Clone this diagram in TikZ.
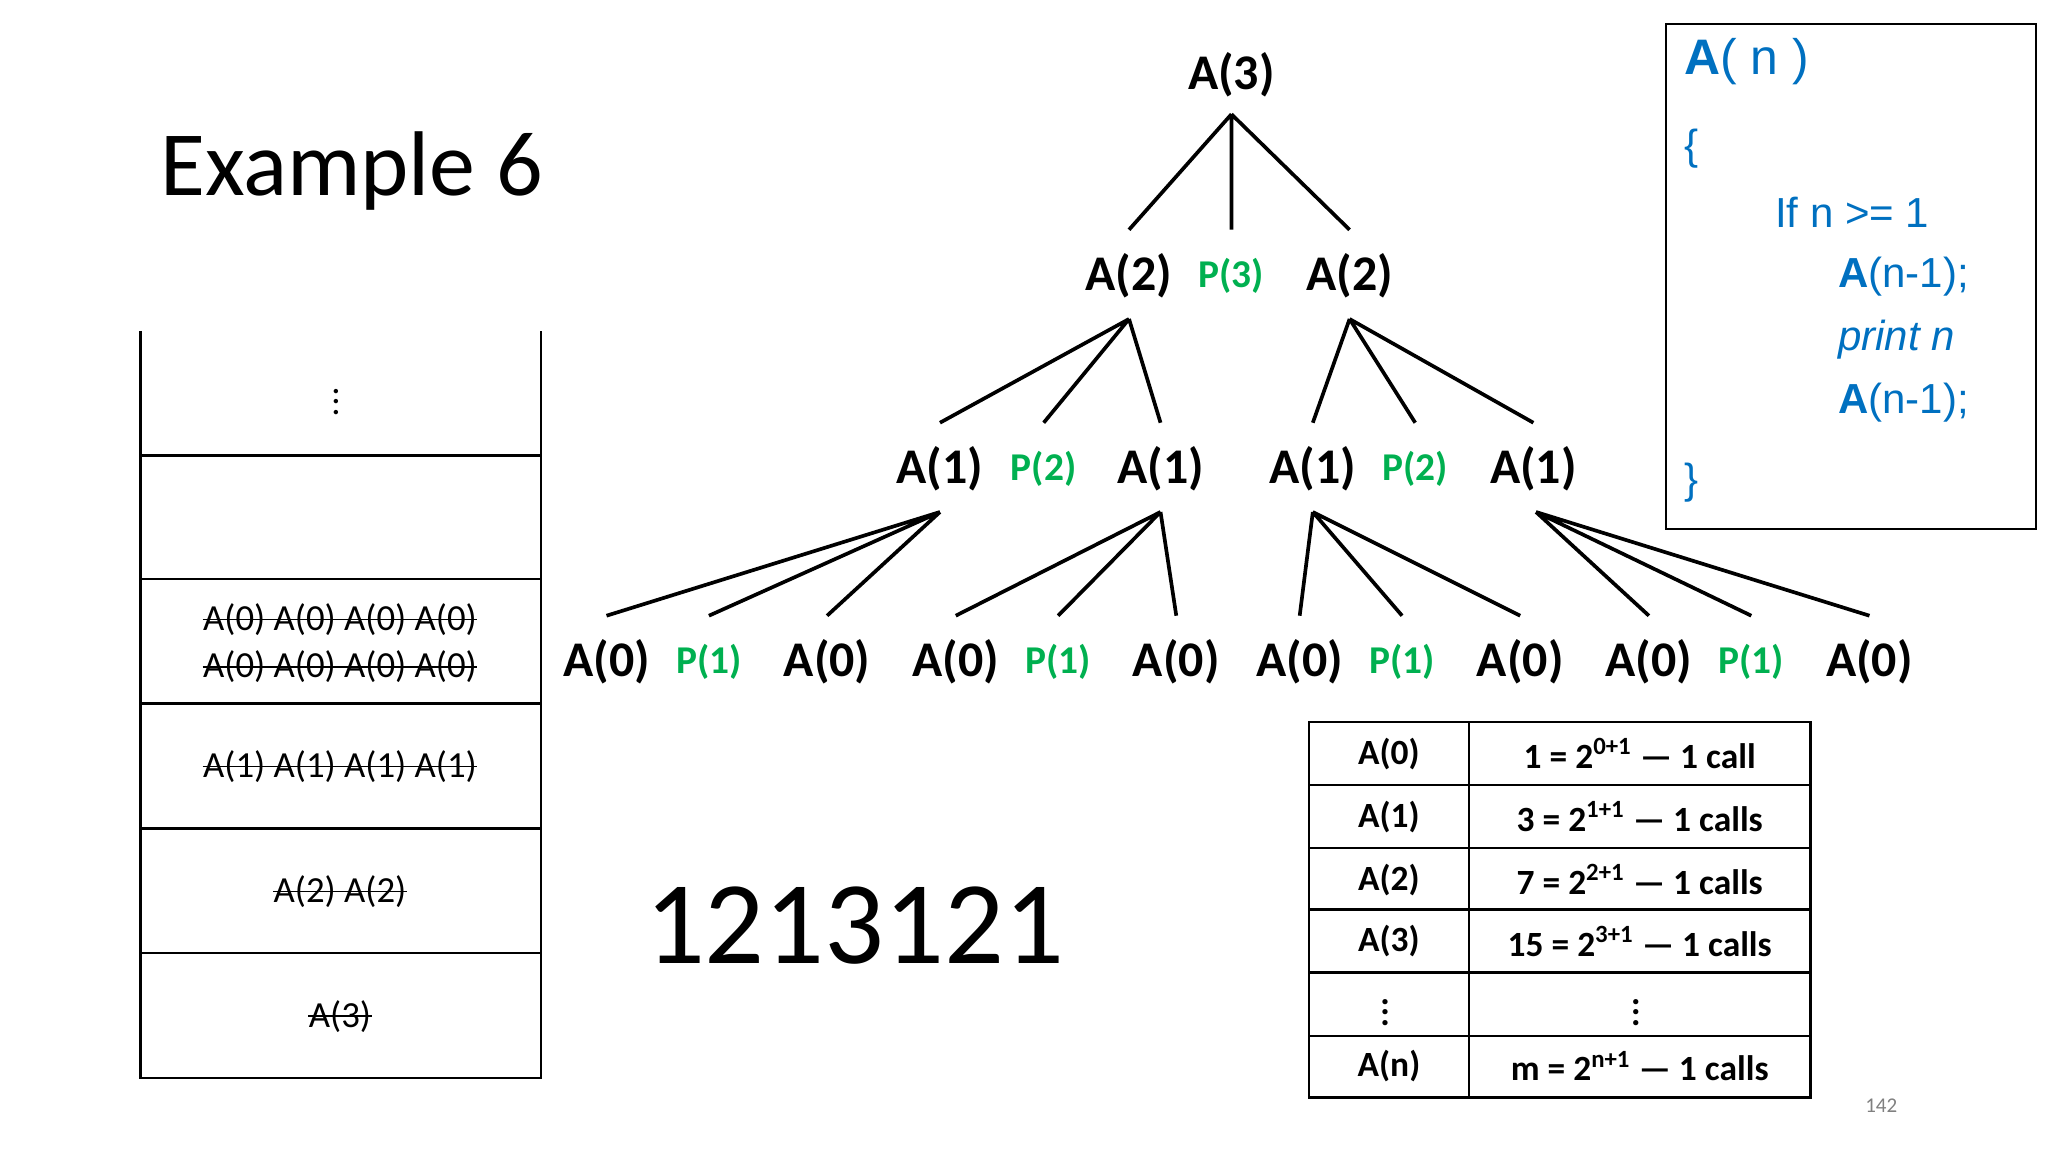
\documentclass[tikz,border=0pt]{standalone}
\usepackage{fontspec}
\setmainfont{Carlito}
\newfontfamily\codefont{Liberation Sans}
\definecolor{pgreen}{RGB}{0,176,80}
\definecolor{cblue}{RGB}{0,112,192}
\begin{document}
\begin{tikzpicture}[x=0.5pt,y=-0.5pt,
  an/.style={font=\fontsize{19}{22}\selectfont\bfseries},
  pn/.style={font=\fontsize{15}{18}\selectfont\bfseries,text=pgreen},
  ed/.style={line width=1.4pt},
  st/.style={font=\fontsize{14}{17}\selectfont,inner sep=0pt},
  sk/.style={line width=0.6pt},
  tb/.style={font=\fontsize{13.5}{16}\selectfont\bfseries},
  cd/.style={font=\fontsize{16}{19}\selectfont\codefont,text=cblue,anchor=west}]
\useasboundingbox (0,0) rectangle (1560,877.5);
% title
\node[font=\fontsize{35}{40}\selectfont,anchor=west] (title) at (115,130) {Example 6};
% tree
\node[an] (r) at (938,57) {A(3)};
\node[an] (l2a) at (860,210) {A(2)};
\node[pn] (p3) at (938,210) {P(3)};
\node[an] (l2b) at (1028,210) {A(2)};
\foreach \n/\x in {a/716,b/884,c/1000,d/1168} \node[an] (l3\n) at (\x,357) {A(1)};
\node[pn] (p2a) at (795,357) {P(2)};
\node[pn] (p2b) at (1078,357) {P(2)};
\foreach \i/\x in {1/462,3/630,4/728,6/896,7/990,9/1158,10/1256,12/1424} \node[an] (l4\i) at (\x,504) {A(0)};
\foreach \i/\x in {2/540,5/806,8/1068,11/1334} \node[pn] (l4\i) at (\x,504) {P(1)};
\coordinate (r0) at (938,87);
\draw[ed] (r0) -- (860,175) (r0) -- (938,175) (r0) -- (1028,175);
\coordinate (a0) at (860,243); \coordinate (b0) at (1028,243);
\draw[ed] (a0) -- (716,322) (a0) -- (795,322) (a0) -- (884,322);
\draw[ed] (b0) -- (1000,322) (b0) -- (1078,322) (b0) -- (1168,322);
\foreach \s/\p/\q/\r in {716/462/540/630,884/728/806/896,1000/990/1068/1158,1170/1256/1334/1424}{
  \draw[ed] (\s,390) -- (\p,469) (\s,390) -- (\q,469) (\s,390) -- (\r,469);}
% stack
\draw[line width=1pt] (107,252) -- (107,821) -- (412,821) -- (412,252);
\foreach \y in {347,441,536,631,726} \draw[line width=1pt] (107,\y) -- (412,\y);
\node[font=\fontsize{14}{17}\selectfont,inner sep=0pt] (dots) at (256,300) {$\vdots$};
\node[st] (s3a) at (259,472) {A(0) A(0) A(0) A(0)};
\node[st] (s3b) at (259,508) {A(0) A(0) A(0) A(0)};
\node[st] (s2) at (259,584) {A(1) A(1) A(1) A(1)};
\node[st] (s1) at (259,679) {A(2) A(2)};
\node[st] (s0) at (259,774) {A(3)};
\foreach \n in {s3a,s3b,s2,s1,s0} \draw[sk] (\n.west) -- (\n.east);
% result
\node[font=\fontsize{45}{50}\selectfont] (res) at (651,705) {1213121};
% table
\draw[line width=1pt] (997,550) rectangle (1379,836);
\draw[line width=1pt] (1119,550) -- (1119,836);
\foreach \y in {598,646,693,741,789} \draw[line width=1pt] (997,\y) -- (1379,\y);
\foreach \y/\a/\b in {574/A(0)/{1 = 2\textsuperscript{0+1} — 1 call},622/A(1)/{3 = 2\textsuperscript{1+1} — 1 calls},670/A(2)/{7 = 2\textsuperscript{2+1} — 1 calls},717/A(3)/{15 = 2\textsuperscript{3+1} — 1 calls},812/A(n)/{m = 2\textsuperscript{n+1} — 1 calls}}{
  \node[tb] at (1058,\y) {\a}; \node[tb] at (1249,\y) {\b};}
\node[tb,inner sep=0pt] (td1) at (1055,765) {$\vdots$};
\node[tb,inner sep=0pt] (td2) at (1246,765) {$\vdots$};
% code box
\draw[line width=0.8pt] (1269,18) rectangle (1551,403);
\node[cd,font=\fontsize{19}{22}\selectfont\codefont] (c1) at (1276,47) {\textbf{A}( n )};
\node[cd] (c2) at (1276,113) {\{};
\node[cd] (c3) at (1345,162) {If n >= 1};
\node[cd] (c4) at (1393,211) {\textbf{A}(n-1);};
\node[cd] (c5) at (1393,259) {\itshape print n};
\node[cd] (c6) at (1393,307) {\textbf{A}(n-1);};
\node[cd] (c7) at (1276,368) {\}};
\node[font=\fontsize{8}{10}\selectfont,text=gray] (pg) at (1433,842) {142};
\end{tikzpicture}
\end{document}
